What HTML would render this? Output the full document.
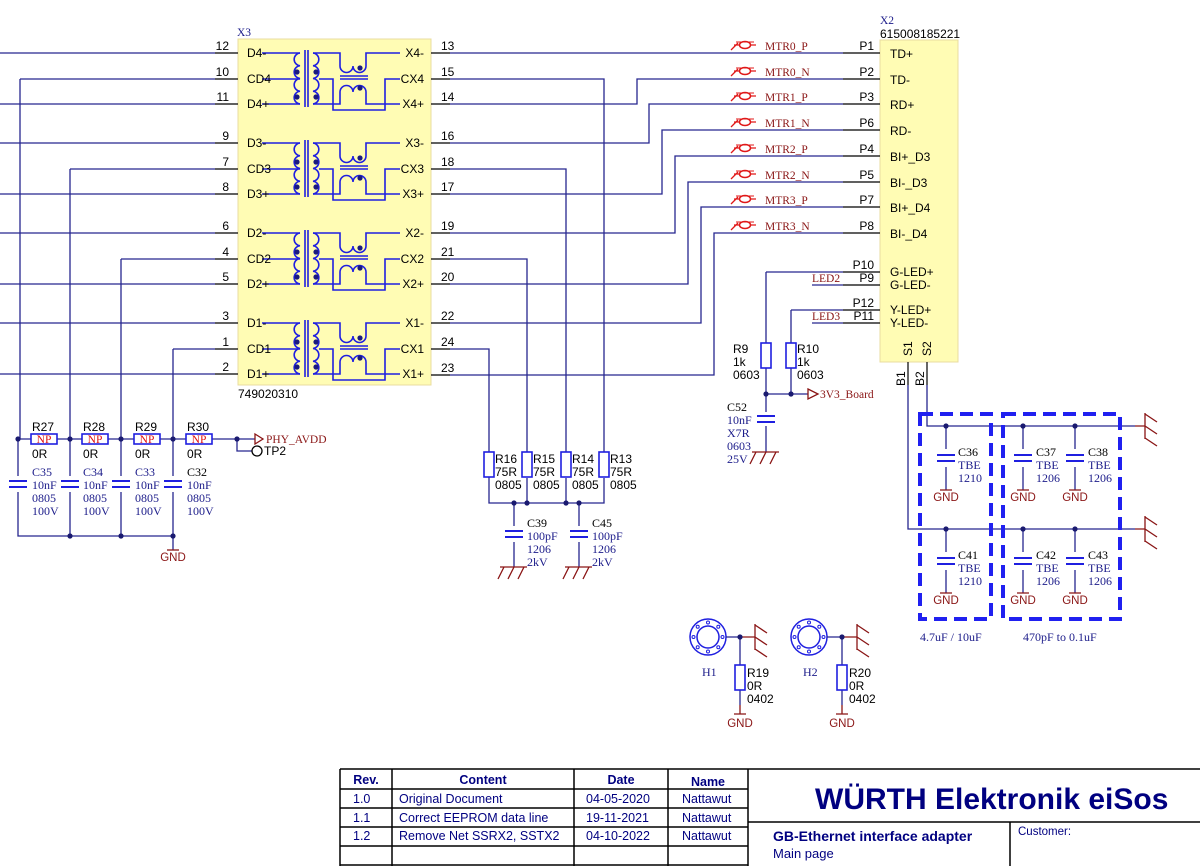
<!DOCTYPE html>
<html><head><meta charset="utf-8"><style>
html,body{margin:0;padding:0;background:#fff;}
svg{display:block;}
.s{font-family:"Liberation Sans",sans-serif;font-size:12px;fill:#000;}
.sr{font-family:"Liberation Serif",serif;font-size:12px;fill:#1c1c8a;}
.nr{font-family:"Liberation Serif",serif;font-size:11.5px;fill:#8a1515;}
.g{font-family:"Liberation Sans",sans-serif;font-size:11.5px;fill:#8a1515;}
.w{stroke:#26268f;stroke-width:1.3;fill:none;}
.k{stroke:#000;stroke-width:1.2;fill:none;}
.c{stroke:#1f1fe0;stroke-width:1.6;fill:none;}
.r{stroke:#8a1515;stroke-width:1.3;fill:none;}
.t{font-family:"Liberation Sans",sans-serif;fill:#000080;}
</style></head><body>
<svg width="1200" height="866" viewBox="0 0 1200 866" xmlns="http://www.w3.org/2000/svg">
<defs>
<g id="xf">
  <path class="c" d="M262,53H300 M262,79H300 M262,104H300"/>
  <path class="c" d="M300,53a6.4,6.4 0 0 0 0,12.75a6.4,6.4 0 0 0 0,12.75a6.4,6.4 0 0 0 0,12.75a6.4,6.4 0 0 0 0,12.75"/>
  <path class="c" d="M305,50V107M308,50V107"/>
  <path class="c" d="M313,53a6.4,6.4 0 0 1 0,12.75a6.4,6.4 0 0 1 0,12.75a6.4,6.4 0 0 1 0,12.75a6.4,6.4 0 0 1 0,12.75"/>
  <path class="c" d="M313,53H340V66a6.5,6.5 0 0 0 13,0a6.5,6.5 0 0 0 13,0V53H400"/>
  <path class="c" d="M313,104H340V92a6.5,6.5 0 0 1 13,0a6.5,6.5 0 0 1 13,0V104H400"/>
  <path class="c" d="M340,76H368M340,79H368"/>
  <path class="c" d="M319,79H333V110H385V79H400"/>
  <circle cx="297" cy="72" r="2.6" fill="#1a1a80"/><circle cx="297" cy="97" r="2.6" fill="#1a1a80"/>
  <circle cx="316" cy="72" r="2.6" fill="#1a1a80"/><circle cx="316" cy="97" r="2.6" fill="#1a1a80"/>
  <circle cx="360" cy="68" r="2.6" fill="#1a1a80"/><circle cx="360" cy="88" r="2.6" fill="#1a1a80"/>
</g>
<g id="cap"><path d="M-9,-3H9M-9,3H9" stroke="#1f1fe0" stroke-width="2"/></g>
<g id="rv"><rect x="-5" y="0" width="10" height="25" fill="#fff" stroke="#1f1fe0" stroke-width="1.6"/></g>
<g id="rh"><rect x="0" y="-5" width="26" height="10" fill="#fff" stroke="#1f1fe0" stroke-width="1.6"/><text x="13" y="4" text-anchor="middle" style="font-family:'Liberation Serif',serif;font-size:11.5px;fill:#e01010">NP</text></g>
<g id="ch"><path class="r" d="M-14,0H13M-10,0L-16,12M0,0L-6,12M10,0L4,12"/></g>
<g id="chr"><path class="r" d="M0,-13V13M0,-12L12,-4M0,0L12,8M0,12L12,20"/></g>
<g id="dot"><circle r="2.6" fill="#1a1a70"/></g>
<g id="mtr"><path d="M0,0H6M16,0H22M-3,5L4,-2" stroke="#e01818" stroke-width="1.3" fill="none"/><ellipse cx="11" cy="0" rx="5.5" ry="3.5" fill="none" stroke="#e01818" stroke-width="1.5"/><path d="M2,-3H20" stroke="#e01818" stroke-width="0.9"/></g>
<g id="hole"><circle r="18" fill="none" stroke="#1f1fe0" stroke-width="1.5"/><circle r="11" fill="none" stroke="#1f1fe0" stroke-width="1.5"/>
<circle cx="14.5" cy="0" r="1.5" fill="none" stroke="#1f1fe0"/><circle cx="-14.5" cy="0" r="1.5" fill="none" stroke="#1f1fe0"/><circle cx="0" cy="14.5" r="1.5" fill="none" stroke="#1f1fe0"/><circle cx="0" cy="-14.5" r="1.5" fill="none" stroke="#1f1fe0"/>
<circle cx="10.3" cy="10.3" r="1.5" fill="none" stroke="#1f1fe0"/><circle cx="-10.3" cy="10.3" r="1.5" fill="none" stroke="#1f1fe0"/><circle cx="10.3" cy="-10.3" r="1.5" fill="none" stroke="#1f1fe0"/><circle cx="-10.3" cy="-10.3" r="1.5" fill="none" stroke="#1f1fe0"/></g>
</defs>

<!-- X3 box -->
<rect x="238" y="39" width="193" height="346" fill="#fffcb4" stroke="#eadca0" stroke-width="1"/>
<text x="237" y="36" class="nr" style="fill:#1c1c8a">X3</text>
<text x="238" y="398" class="s">749020310</text>
<use href="#xf"/><use href="#xf" y="90"/><use href="#xf" y="180"/><use href="#xf" y="270"/>

<!-- left pins -->
<path class="w" d="M0,53H215M0,104H215M0,143H215M0,194H215M0,233H215M0,284H215M0,323H215M0,374H215"/>
<path class="w" d="M20,79H215M70,169H215M121,259H215M173,349H215M20,79V439M70,169V439M121,259V439M173,349V439"/>
<path class="k" d="M215,53H238M215,79H238M215,104H238M215,143H238M215,169H238M215,194H238M215,233H238M215,259H238M215,284H238M215,323H238M215,349H238M215,374H238"/>
<g class="s" text-anchor="end">
<text x="229" y="50">12</text><text x="229" y="76">10</text><text x="229" y="101">11</text>
<text x="229" y="140">9</text><text x="229" y="166">7</text><text x="229" y="191">8</text>
<text x="229" y="230">6</text><text x="229" y="256">4</text><text x="229" y="281">5</text>
<text x="229" y="320">3</text><text x="229" y="346">1</text><text x="229" y="371">2</text>
</g>
<g class="s">
<text x="247" y="57">D4-</text><text x="247" y="83">CD4</text><text x="247" y="108">D4+</text>
<text x="247" y="147">D3-</text><text x="247" y="173">CD3</text><text x="247" y="198">D3+</text>
<text x="247" y="237">D2-</text><text x="247" y="263">CD2</text><text x="247" y="288">D2+</text>
<text x="247" y="327">D1-</text><text x="247" y="353">CD1</text><text x="247" y="378">D1+</text>
</g>
<g class="s" text-anchor="end">
<text x="424" y="57">X4-</text><text x="424" y="83">CX4</text><text x="424" y="108">X4+</text>
<text x="424" y="147">X3-</text><text x="424" y="173">CX3</text><text x="424" y="198">X3+</text>
<text x="424" y="237">X2-</text><text x="424" y="263">CX2</text><text x="424" y="288">X2+</text>
<text x="424" y="327">X1-</text><text x="424" y="353">CX1</text><text x="424" y="378">X1+</text>
</g>

<!-- right pins -->
<path class="k" d="M431,53H450M431,79H450M431,104H450M431,143H450M431,169H450M431,194H450M431,233H450M431,259H450M431,284H450M431,323H450M431,349H450M431,375H450"/>
<g class="s">
<text x="441" y="50">13</text><text x="441" y="76">15</text><text x="441" y="101">14</text>
<text x="441" y="140">16</text><text x="441" y="166">18</text><text x="441" y="191">17</text>
<text x="441" y="230">19</text><text x="441" y="256">21</text><text x="441" y="281">20</text>
<text x="441" y="320">22</text><text x="441" y="346">24</text><text x="441" y="372">23</text>
</g>
<path class="w" d="M450,53H843 M450,79H604V452 M450,104H637V79H843 M450,143H649V104H843 M450,169H566V452 M450,194H662V130H843 M450,233H675V156H843 M450,259H527V452 M450,284H688V182H843 M450,323H701V207H843 M450,349H489V452 M450,375H714V233H843"/>

<!-- MTR labels -->
<g><use href="#mtr" x="734" y="45"/><use href="#mtr" x="734" y="71"/><use href="#mtr" x="734" y="96"/><use href="#mtr" x="734" y="122"/><use href="#mtr" x="734" y="148"/><use href="#mtr" x="734" y="174"/><use href="#mtr" x="734" y="199"/><use href="#mtr" x="734" y="225"/></g>
<g class="nr">
<text x="765" y="50">MTR0_P</text><text x="765" y="76">MTR0_N</text><text x="765" y="101">MTR1_P</text><text x="765" y="127">MTR1_N</text>
<text x="765" y="153">MTR2_P</text><text x="765" y="179">MTR2_N</text><text x="765" y="204">MTR3_P</text><text x="765" y="230">MTR3_N</text>
</g>

<!-- X2 -->
<rect x="880" y="40" width="78" height="322" fill="#fffcb4" stroke="#eadca0"/>
<text x="880" y="24" class="nr" style="fill:#1c1c8a">X2</text>
<text x="880" y="38" class="s">615008185221</text>
<path class="k" d="M843,53H880M843,79H880M843,104H880M843,130H880M843,156H880M843,182H880M843,207H880M843,233H880M843,272H880M843,285H880M843,310H880M843,323H880M908,362V385M927,362V385"/>
<g class="s" text-anchor="end">
<text x="874" y="50">P1</text><text x="874" y="76">P2</text><text x="874" y="101">P3</text><text x="874" y="127">P6</text>
<text x="874" y="153">P4</text><text x="874" y="179">P5</text><text x="874" y="204">P7</text><text x="874" y="230">P8</text>
<text x="874" y="269">P10</text><text x="874" y="282">P9</text><text x="874" y="307">P12</text><text x="874" y="320">P11</text>
</g>
<g class="s">
<text x="890" y="58">TD+</text><text x="890" y="84">TD-</text><text x="890" y="109">RD+</text><text x="890" y="135">RD-</text>
<text x="890" y="161">BI+_D3</text><text x="890" y="187">BI-_D3</text><text x="890" y="212">BI+_D4</text><text x="890" y="238">BI-_D4</text>
<text x="890" y="276">G-LED+</text><text x="890" y="289">G-LED-</text><text x="890" y="314">Y-LED+</text><text x="890" y="327">Y-LED-</text>
<text transform="translate(912,356) rotate(-90)">S1</text><text transform="translate(931,356) rotate(-90)">S2</text>
<text transform="translate(905,386) rotate(-90)">B1</text><text transform="translate(924,386) rotate(-90)">B2</text>
</g>

<!-- LEDs and R9/R10 -->
<path class="w" d="M766,272H843M766,272V394M791,310H843M791,310V394M812,285H843M812,323H843M766,394H808M766,394V452"/>
<text x="812" y="282" class="nr">LED2</text><text x="812" y="320" class="nr">LED3</text>
<use href="#rv" x="766" y="343"/><use href="#rv" x="791" y="343"/>
<use href="#dot" x="766" y="394"/><use href="#dot" x="791" y="394"/>
<path d="M808,389L818,394L808,399Z" fill="none" stroke="#8a1515" stroke-width="1.3"/>
<text x="820" y="398" class="nr">3V3_Board</text>
<g class="s"><text x="733" y="353">R9</text><text x="733" y="366">1k</text><text x="733" y="379">0603</text>
<text x="797" y="353">R10</text><text x="797" y="366">1k</text><text x="797" y="379">0603</text></g>
<rect x="755" y="412" width="22" height="14" fill="#fff"/>
<use href="#cap" x="766" y="419"/>
<use href="#ch" x="766" y="452"/>
<g class="sr"><text x="727" y="411" style="fill:#000">C52</text><text x="727" y="424">10nF</text><text x="727" y="437">X7R</text><text x="727" y="450">0603</text><text x="727" y="463">25V</text></g>

<!-- right cap bank -->
<path class="w" d="M927,385V426H1135M908,385V529H1135M946,426V490M1023,426V490M1075,426V490M946,529V593M1023,529V593M1075,529V593"/>
<path class="r" d="M1135,426H1145M1135,529H1145"/>
<use href="#chr" x="1145" y="426"/><use href="#chr" x="1145" y="529"/>
<rect x="920" y="414" width="71" height="205" fill="none" stroke="#2020f0" stroke-width="4" stroke-dasharray="13,7"/>
<rect x="1003" y="414" width="117" height="205" fill="none" stroke="#2020f0" stroke-width="4" stroke-dasharray="13,7"/>
<g>
<rect x="935" y="449" width="22" height="18" fill="#fff"/><use href="#cap" x="946" y="458"/>
<rect x="1012" y="449" width="22" height="18" fill="#fff"/><use href="#cap" x="1023" y="458"/>
<rect x="1064" y="449" width="22" height="18" fill="#fff"/><use href="#cap" x="1075" y="458"/>
<rect x="935" y="552" width="22" height="18" fill="#fff"/><use href="#cap" x="946" y="561"/>
<rect x="1012" y="552" width="22" height="18" fill="#fff"/><use href="#cap" x="1023" y="561"/>
<rect x="1064" y="552" width="22" height="18" fill="#fff"/><use href="#cap" x="1075" y="561"/>
</g>
<g class="r"><path d="M940,490H952M1017,490H1029M1069,490H1081M940,593H952M1017,593H1029M1069,593H1081"/></g>
<g class="g" text-anchor="middle"><text x="946" y="501">GND</text><text x="1023" y="501">GND</text><text x="1075" y="501">GND</text>
<text x="946" y="604">GND</text><text x="1023" y="604">GND</text><text x="1075" y="604">GND</text></g>
<g><use href="#dot" x="946" y="426"/><use href="#dot" x="1023" y="426"/><use href="#dot" x="1075" y="426"/>
<use href="#dot" x="946" y="529"/><use href="#dot" x="1023" y="529"/><use href="#dot" x="1075" y="529"/></g>
<g class="sr">
<text x="958" y="456" style="fill:#000">C36</text><text x="958" y="469">TBE</text><text x="958" y="482">1210</text>
<text x="1036" y="456" style="fill:#000">C37</text><text x="1036" y="469">TBE</text><text x="1036" y="482">1206</text>
<text x="1088" y="456" style="fill:#000">C38</text><text x="1088" y="469">TBE</text><text x="1088" y="482">1206</text>
<text x="958" y="559" style="fill:#000">C41</text><text x="958" y="572">TBE</text><text x="958" y="585">1210</text>
<text x="1036" y="559" style="fill:#000">C42</text><text x="1036" y="572">TBE</text><text x="1036" y="585">1206</text>
<text x="1088" y="559" style="fill:#000">C43</text><text x="1088" y="572">TBE</text><text x="1088" y="585">1206</text>
<text x="920" y="641">4.7uF / 10uF</text><text x="1023" y="641">470pF to 0.1uF</text>
</g>

<!-- left bottom -->
<path class="w" d="M18,439H255M237,439V451H252M18,439V536H173M70,439V536M121,439V536M173,439V550"/>
<use href="#rh" x="31" y="439"/><use href="#rh" x="82" y="439"/><use href="#rh" x="134" y="439"/><use href="#rh" x="186" y="439"/>
<g><use href="#dot" x="18" y="439"/><use href="#dot" x="70" y="439"/><use href="#dot" x="121" y="439"/><use href="#dot" x="173" y="439"/><use href="#dot" x="237" y="439"/>
<use href="#dot" x="70" y="536"/><use href="#dot" x="121" y="536"/><use href="#dot" x="173" y="536"/></g>
<path d="M255,434L263,439L255,444Z" fill="none" stroke="#8a1515" stroke-width="1.3"/>
<text x="266" y="443" class="nr">PHY_AVDD</text>
<circle cx="257" cy="451" r="5" fill="#fff" stroke="#000" stroke-width="1.3"/>
<text x="264" y="455" class="s">TP2</text>
<g class="s"><text x="32" y="431">R27</text><text x="83" y="431">R28</text><text x="135" y="431">R29</text><text x="187" y="431">R30</text>
<text x="32" y="458">0R</text><text x="83" y="458">0R</text><text x="135" y="458">0R</text><text x="187" y="458">0R</text></g>
<g>
<rect x="7" y="476" width="22" height="16" fill="#fff"/><use href="#cap" x="18" y="484"/>
<rect x="59" y="476" width="22" height="16" fill="#fff"/><use href="#cap" x="70" y="484"/>
<rect x="110" y="476" width="22" height="16" fill="#fff"/><use href="#cap" x="121" y="484"/>
<rect x="162" y="476" width="22" height="16" fill="#fff"/><use href="#cap" x="173" y="484"/>
</g>
<g class="sr">
<text x="32" y="476">C35</text><text x="32" y="489">10nF</text><text x="32" y="502">0805</text><text x="32" y="515">100V</text>
<text x="83" y="476">C34</text><text x="83" y="489">10nF</text><text x="83" y="502">0805</text><text x="83" y="515">100V</text>
<text x="135" y="476">C33</text><text x="135" y="489">10nF</text><text x="135" y="502">0805</text><text x="135" y="515">100V</text>
<text x="187" y="476" style="fill:#000">C32</text><text x="187" y="489">10nF</text><text x="187" y="502">0805</text><text x="187" y="515">100V</text>
</g>
<path class="r" d="M167,550H179"/>
<text x="173" y="561" class="g" text-anchor="middle">GND</text>

<!-- R13-R16 -->
<path class="w" d="M489,452V503H604V478M527,478V503M566,478V503M514,503V567M579,503V567"/>
<use href="#rv" x="489" y="452"/><use href="#rv" x="527" y="452"/><use href="#rv" x="566" y="452"/><use href="#rv" x="604" y="452"/>
<g><use href="#dot" x="514" y="503"/><use href="#dot" x="527" y="503"/><use href="#dot" x="566" y="503"/><use href="#dot" x="579" y="503"/></g>
<g class="s">
<text x="495" y="463">R16</text><text x="495" y="476">75R</text><text x="495" y="489">0805</text>
<text x="533" y="463">R15</text><text x="533" y="476">75R</text><text x="533" y="489">0805</text>
<text x="572" y="463">R14</text><text x="572" y="476">75R</text><text x="572" y="489">0805</text>
<text x="610" y="463">R13</text><text x="610" y="476">75R</text><text x="610" y="489">0805</text>
</g>
<rect x="503" y="526" width="22" height="16" fill="#fff"/><use href="#cap" x="514" y="534"/>
<rect x="568" y="526" width="22" height="16" fill="#fff"/><use href="#cap" x="579" y="534"/>
<use href="#ch" x="514" y="567"/><use href="#ch" x="579" y="567"/>
<g class="sr">
<text x="527" y="527" style="fill:#000">C39</text><text x="527" y="540">100pF</text><text x="527" y="553">1206</text><text x="527" y="566">2kV</text>
<text x="592" y="527" style="fill:#000">C45</text><text x="592" y="540">100pF</text><text x="592" y="553">1206</text><text x="592" y="566">2kV</text>
</g>

<!-- holes -->
<use href="#hole" x="708" y="637"/><use href="#hole" x="809" y="637"/>
<path class="w" d="M726,637H740V665M740,690V705M827,637H842V665M842,690V705"/>
<path class="r" d="M740,637H755M842,637H857"/>
<use href="#chr" x="755" y="637"/><use href="#chr" x="857" y="637"/>
<use href="#dot" x="740" y="637"/><use href="#dot" x="842" y="637"/>
<use href="#rv" x="740" y="665"/><use href="#rv" x="842" y="665"/>
<path class="r" d="M740,705V714M734,714H746M842,705V714M836,714H848"/>
<text x="702" y="676" class="sr">H1</text><text x="803" y="676" class="sr">H2</text>
<g class="s"><text x="747" y="677">R19</text><text x="747" y="690">0R</text><text x="747" y="703">0402</text>
<text x="849" y="677">R20</text><text x="849" y="690">0R</text><text x="849" y="703">0402</text></g>
<text x="740" y="727" class="g" text-anchor="middle">GND</text><text x="842" y="727" class="g" text-anchor="middle">GND</text>

<!-- title block -->
<g stroke="#000" stroke-width="1.5" fill="none">
<path d="M340,769H1200M340,769V866M392,769V866M574,769V866M668,769V866M748,769V866"/>
<path d="M340,789H748M340,808H748M340,827H748M340,846H748M340,865H748"/>
<path d="M748,822H1200M1010,822V866"/>
</g>
<g class="t" style="font-size:12.5px">
<text x="366" y="784" text-anchor="middle" font-weight="bold">Rev.</text>
<text x="483" y="784" text-anchor="middle" font-weight="bold">Content</text>
<text x="621" y="784" text-anchor="middle" font-weight="bold">Date</text>
<text x="708" y="786" text-anchor="middle" font-weight="bold">Name</text>
<text x="353" y="803">1.0</text><text x="399" y="803">Original Document</text><text x="586" y="803">04-05-2020</text><text x="682" y="803">Nattawut</text>
<text x="353" y="822">1.1</text><text x="399" y="822">Correct EEPROM data line</text><text x="586" y="822">19-11-2021</text><text x="682" y="822">Nattawut</text>
<text x="353" y="840">1.2</text><text x="399" y="840">Remove Net SSRX2, SSTX2</text><text x="586" y="840">04-10-2022</text><text x="682" y="840">Nattawut</text>
</g>
<text x="815" y="809" class="t" style="font-size:30px;font-weight:bold">WÜRTH Elektronik eiSos</text>
<text x="773" y="841" class="t" style="font-size:14px;font-weight:bold">GB-Ethernet interface adapter</text>
<text x="773" y="858" class="t" style="font-size:13px">Main page</text>
<text x="1018" y="835" class="t" style="font-size:11.5px">Customer:</text>
</svg>
</body></html>
